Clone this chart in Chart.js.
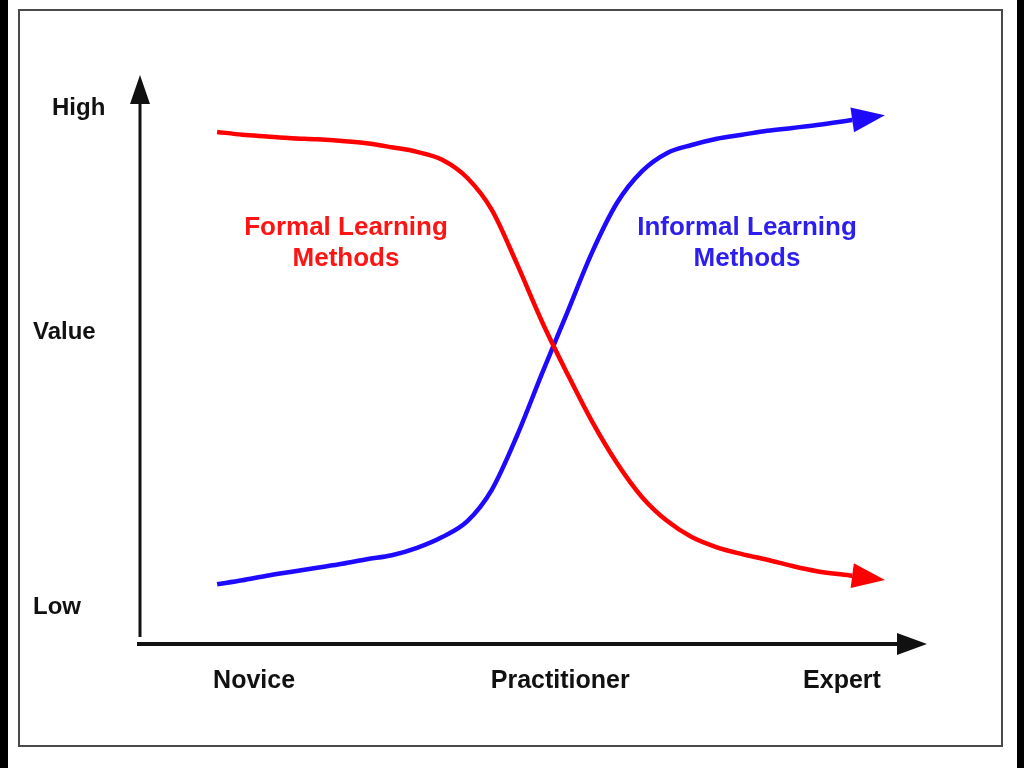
<!DOCTYPE html>
<html><head><meta charset="utf-8">
<script src="https://cdn.jsdelivr.net/npm/chart.js@4/dist/chart.umd.min.js"></script>
<style>
html,body{margin:0;padding:0;background:#fff;width:1024px;height:768px;overflow:hidden;}
#l{position:absolute;left:0;top:0;width:8px;height:768px;background:#000;}
#r{position:absolute;left:1017px;top:0;width:7px;height:768px;background:#000;}
#frame{position:absolute;left:18px;top:9px;width:981px;height:734px;border:2px solid #4a4a4a;}
#c{position:absolute;left:0;top:0;}
</style></head><body>
<div id="l"></div><div id="r"></div><div id="frame"></div>
<canvas id="c" width="1024" height="768"></canvas>
<script>
// ---- data ----
const xTickValues = [14.5, 53.4, 89.2];
const xTickLabels = ['Novice', 'Practitioner', 'Expert'];
const yTickValues = [94.2, 54.8, 6.5];
const yTickLabels = ['High', 'Value', 'Low'];
const seriesNames = ['Formal Learning Methods', 'Informal Learning Methods'];
const annotationLines = [['Formal Learning', 'Methods'], ['Informal Learning', 'Methods']];

const stageX = [9.8, 13.0, 16.1, 19.3, 22.5, 25.7, 28.8, 32.0, 35.2, 38.4, 41.6, 44.7, 47.9, 51.1, 54.3, 57.4, 60.6, 63.8, 67.0, 70.1, 73.3, 76.5, 79.7, 82.9, 86.0, 90.5];
const formalY = [90.0, 89.5, 89.2, 88.9, 88.7, 88.4, 88.0, 87.3, 86.5, 85.1, 81.9, 76.3, 66.8, 56.6, 47.5, 39.2, 31.8, 25.8, 21.6, 18.8, 17.0, 15.8, 14.8, 13.7, 12.8, 12.0];
const informalY = [10.5, 11.2, 12.0, 12.7, 13.4, 14.1, 14.9, 15.6, 16.9, 18.8, 21.6, 27.1, 36.6, 47.6, 58.3, 68.7, 77.5, 83.1, 86.3, 87.7, 88.8, 89.5, 90.2, 90.7, 91.2, 92.1];

const RED = 'rgb(255,0,0)';
const BLUE = 'rgb(30,10,255)';
const FONT = "'Liberation Sans', Arial, Helvetica, sans-serif";

const toPts = (xs, ys) => xs.map((x, i) => ({x: x, y: ys[i]}));

// arrowheads at the end of each series + arrowed axes + text
const decor = {
  id: 'decor',
  afterDatasetsDraw(chart) {
    const ctx = chart.ctx;
    const a = chart.chartArea;
    ctx.save();
    // axes
    ctx.strokeStyle = '#111'; ctx.fillStyle = '#111';
    ctx.lineWidth = 3;
    ctx.beginPath(); ctx.moveTo(a.left, a.bottom - 7); ctx.lineTo(a.left, a.top + 26); ctx.stroke();
    ctx.beginPath(); ctx.moveTo(a.left, a.top); ctx.lineTo(a.left - 10, a.top + 29); ctx.lineTo(a.left + 10, a.top + 29); ctx.closePath(); ctx.fill();
    ctx.lineWidth = 4;
    ctx.beginPath(); ctx.moveTo(a.left - 3, a.bottom); ctx.lineTo(a.right - 26, a.bottom); ctx.stroke();
    ctx.beginPath(); ctx.moveTo(a.right, a.bottom); ctx.lineTo(a.right - 30, a.bottom - 11); ctx.lineTo(a.right - 30, a.bottom + 11); ctx.closePath(); ctx.fill();
    // series arrowheads
    chart.data.datasets.forEach((ds, i) => {
      const pts = chart.getDatasetMeta(i).data;
      const p = pts[pts.length - 1], q = pts[pts.length - 2];
      const ang = Math.atan2(p.y - q.y, p.x - q.x);
      const len = 33, hw = 12.5;
      const cx = Math.cos(ang), sy = Math.sin(ang);
      ctx.fillStyle = ds.borderColor;
      ctx.beginPath();
      ctx.moveTo(p.x + cx * len, p.y + sy * len);
      ctx.lineTo(p.x - sy * hw, p.y + cx * hw);
      ctx.lineTo(p.x + sy * hw, p.y - cx * hw);
      ctx.closePath(); ctx.fill();
    });
    // y labels
    const ys = chart.scales.y;
    const yLabelLeft = [52, 33, 33];
    ctx.font = 'bold 24px ' + FONT;
    ctx.fillStyle = '#111'; ctx.textAlign = 'left'; ctx.textBaseline = 'middle';
    yTickValues.forEach((v, i) => ctx.fillText(yTickLabels[i], yLabelLeft[i], ys.getPixelForValue(v)));
    // curve annotations
    ctx.font = 'bold 26px ' + FONT;
    ctx.textAlign = 'center'; ctx.textBaseline = 'alphabetic';
    const centers = [346, 747];
    const cols = ['rgb(255,20,20)', 'rgb(45,30,240)'];
    annotationLines.forEach((lines, i) => {
      ctx.fillStyle = cols[i];
      lines.forEach((t, j) => ctx.fillText(t, centers[i], 235 + j * 31));
    });
    ctx.restore();
  }
};

new Chart(document.getElementById('c'), {
  type: 'line',
  data: {
    datasets: [
      {label: seriesNames[0], data: toPts(stageX, formalY), borderColor: RED, borderWidth: 4.5, pointRadius: 0, cubicInterpolationMode: 'monotone', fill: false, borderCapStyle: 'butt'},
      {label: seriesNames[1], data: toPts(stageX, informalY), borderColor: BLUE, borderWidth: 4.5, pointRadius: 0, cubicInterpolationMode: 'monotone', fill: false, borderCapStyle: 'butt'}
    ]
  },
  options: {
    responsive: false,
    animation: false,
    devicePixelRatio: 1,
    layout: {padding: {top: 75, right: 97, left: 0, bottom: 0}},
    plugins: {legend: {display: false}, tooltip: {enabled: false}},
    scales: {
      x: {
        type: 'linear', min: 0, max: 100,
        grid: {display: false, drawTicks: false},
        border: {display: false},
        afterBuildTicks: s => { s.ticks = xTickValues.map(v => ({value: v})); },
        afterFit: s => { s.height = 124; },
        ticks: {
          autoSkip: false, maxRotation: 0, padding: 22,
          color: '#111', font: {family: FONT, size: 25, weight: 'bold'},
          callback: (v, i) => xTickLabels[i]
        }
      },
      y: {
        type: 'linear', min: 0, max: 100,
        grid: {display: false, drawTicks: false},
        border: {display: false},
        afterBuildTicks: s => { s.ticks = yTickValues.map(v => ({value: v})); },
        afterFit: s => { s.width = 140; },
        ticks: {display: false}
      }
    }
  },
  plugins: [decor]
});
</script>
</body></html>
